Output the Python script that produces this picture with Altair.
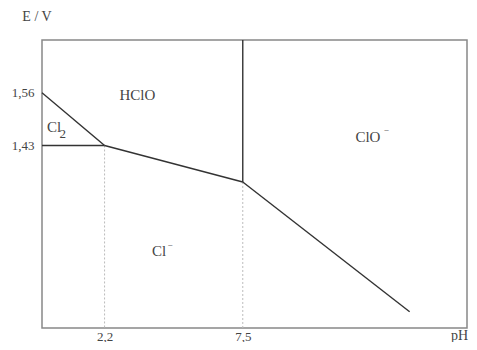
import altair as alt
import pandas as pd

# Boundary segments (pH, E/V)
seg_x = [-0.2, -0.2, 2.2, 7.5, 7.5]
seg_y = [1.56, 1.43, 1.43, 1.34, 1.34]
seg_x2 = [2.2, 2.2, 7.5, 13.9, 7.5]
seg_y2 = [1.43, 1.43, 1.34, 1.02, 1.69]

# dotted guides
dot_x = [2.2, 7.5]
dot_y = [1.43, 1.34]

# region labels
lab_text = ["HClO", "Cl", "ClO", "Cl"]
lab_x = [3.46, 0.26, 12.3, 4.29]
lab_y = [1.555, 1.475, 1.45, 1.169]
sub_text = ["2"]
sub_x = [0.6]
sub_y = [1.458]
sup_text = ["−", "−"]
sup_x = [13.0, 4.71]
sup_y = [1.468, 1.185]

x_ticks = [2.2, 7.5]
y_ticks = [1.43, 1.56]

XDOM = [-0.2, 16.1]
YDOM = [0.98, 1.69]
FONT = "Liberation Serif"

xs = alt.Scale(domain=XDOM, nice=False, zero=False)
ys = alt.Scale(domain=YDOM, nice=False, zero=False)

segs = pd.DataFrame({"x": seg_x, "y": seg_y, "x2": seg_x2, "y2": seg_y2})
dots = pd.DataFrame({"x": dot_x, "y": dot_y, "y2": [YDOM[0]] * 2})
labs = pd.DataFrame({"t": lab_text, "x": lab_x, "y": lab_y})
subs = pd.DataFrame({"t": sub_text, "x": sub_x, "y": sub_y})
sups = pd.DataFrame({"t": sup_text, "x": sup_x, "y": sup_y})

xaxis = alt.Axis(values=x_ticks, title=None, grid=False, ticks=False, domain=False,
                 labelExpr="replace(format(datum.value, '.1f'), '.', ',')",
                 labelFont=FONT, labelFontSize=13, labelColor="#444", labelPadding=2)
yaxis = alt.Axis(values=y_ticks, title=None, grid=False, ticks=False, domain=False,
                 labelExpr="replace(format(datum.value, '.2f'), '.', ',')",
                 labelFont=FONT, labelFontSize=13, labelColor="#444", labelPadding=8)

dotted = alt.Chart(dots).mark_rule(color="#bbbbbb", strokeDash=[2, 2], strokeWidth=1).encode(
    x=alt.X("x:Q", scale=xs, axis=xaxis),
    y=alt.Y("y:Q", scale=ys, axis=yaxis),
    y2="y2:Q",
)

lines = alt.Chart(segs).mark_rule(color="#333333", strokeWidth=1.4).encode(
    x=alt.X("x:Q", scale=xs), y=alt.Y("y:Q", scale=ys), x2="x2:Q", y2="y2:Q"
)

labels = alt.Chart(labs).mark_text(font=FONT, fontSize=15, color="#444").encode(
    x=alt.X("x:Q", scale=xs), y=alt.Y("y:Q", scale=ys), text="t:N"
)
subl = alt.Chart(subs).mark_text(font=FONT, fontSize=13, color="#444").encode(
    x=alt.X("x:Q", scale=xs), y=alt.Y("y:Q", scale=ys), text="t:N"
)
supl = alt.Chart(sups).mark_text(font=FONT, fontSize=9, color="#444").encode(
    x=alt.X("x:Q", scale=xs), y=alt.Y("y:Q", scale=ys), text="t:N"
)

ytitle = alt.Chart(pd.DataFrame({"t": ["E / V"]})).mark_text(
    font=FONT, fontSize=14, color="#444", align="center").encode(
    x=alt.value(-5), y=alt.value(-23), text="t:N")
xtitle = alt.Chart(pd.DataFrame({"t": ["pH"]})).mark_text(
    font=FONT, fontSize=14, color="#444", align="right").encode(
    x=alt.value(426), y=alt.value(296), text="t:N")

chart = alt.layer(dotted, lines, labels, subl, supl, ytitle, xtitle).properties(
    width=425, height=288,
    autosize=alt.AutoSizeParams(type="none"),
    padding={"left": 34, "top": 32, "right": 2, "bottom": 14},
    background="white",
).configure_view(stroke="#888888", strokeWidth=1.5)

chart.save("out.html", embed_options={"renderer": "svg", "actions": False})
